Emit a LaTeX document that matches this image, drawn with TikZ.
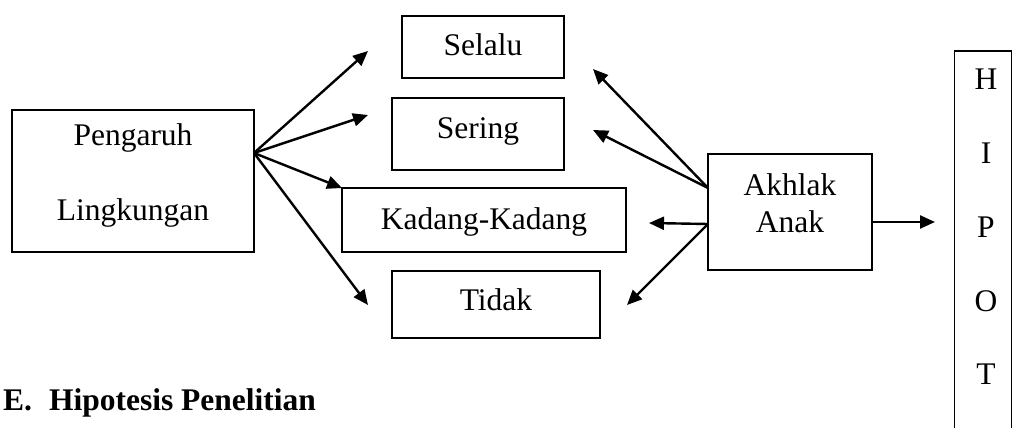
\documentclass[tikz,border=0pt]{standalone}
\usepackage{fontspec}
\setmainfont{Liberation Serif}
\usetikzlibrary{arrows.meta}
\begin{document}
\begin{tikzpicture}[x=1pt,y=-1pt,
  box/.style={draw,line width=1.6pt,rectangle,inner sep=0pt},
  txt/.style={inner sep=0pt,font=\fontsize{31.5}{37}\selectfont},
  arr/.style={line width=2.4pt,-{Triangle[length=15pt,width=13pt]}}]
\useasboundingbox (0,0) rectangle (1013,428);
% boxes
\node[box,minimum width=242pt,minimum height=142pt] (peng) at (133,181) {};
\node[box,minimum width=162pt,minimum height=62pt] (selalu) at (483,47) {};
\node[box,minimum width=172pt,minimum height=72pt] (sering) at (478,134) {};
\node[box,minimum width=284pt,minimum height=64pt] (kadang) at (484,220) {};
\node[box,minimum width=208pt,minimum height=67pt] (tidak) at (496,304.5) {};
\node[box,minimum width=164pt,minimum height=116pt] (akhlak) at (790,212) {};
\node[box,minimum width=57pt,minimum height=420pt,anchor=north] (hip) at (983,50) {};
% texts
\node[txt,align=center,font=\fontsize{31.5}{75}\selectfont] (tpeng) at (133,175) {Pengaruh\\Lingkungan};
\node[txt] (tselalu) at (483,45) {Selalu};
\node[txt] (tsering) at (478,131) {Sering};
\node[txt] (tkadang) at (484,222) {Kadang-Kadang};
\node[txt] (ttidak) at (496,300) {Tidak};
\node[txt,align=center] (takhlak) at (790,203) {Akhlak\\Anak};
\node[txt,align=center,font=\fontsize{31.5}{73.75}\selectfont] (thip) at (986,227) {H\\I\\P\\O\\T};
\node[txt,font=\fontsize{31.5}{37}\bfseries,anchor=base west] (title) at (3,410) {E.\hspace{17pt}Hipotesis Penelitian};
% connector points
\coordinate (p0) at (254,153);
\coordinate (a1) at (368,51);
\coordinate (a2) at (368,115);
\coordinate (a3) at (342,188);
\coordinate (a4) at (368,305);
\coordinate (q1) at (708,188);
\coordinate (q2) at (708,224);
\coordinate (b1) at (593,69);
\coordinate (b2) at (593,130);
\coordinate (b3) at (649,223);
\coordinate (b4) at (627,305);
\coordinate (c1) at (935,222);
% arrows
\draw[arr] (p0) -- (a1);
\draw[arr] (p0) -- (a2);
\draw[arr] (p0) -- (a3);
\draw[arr] (p0) -- (a4);
\draw[arr] (q1) -- (b1);
\draw[arr] (q1) -- (b2);
\draw[arr] (q2) -- (b3);
\draw[arr] (q2) -- (b4);
\draw[arr] (akhlak.east |- c1) -- (c1);
\end{tikzpicture}
\end{document}
